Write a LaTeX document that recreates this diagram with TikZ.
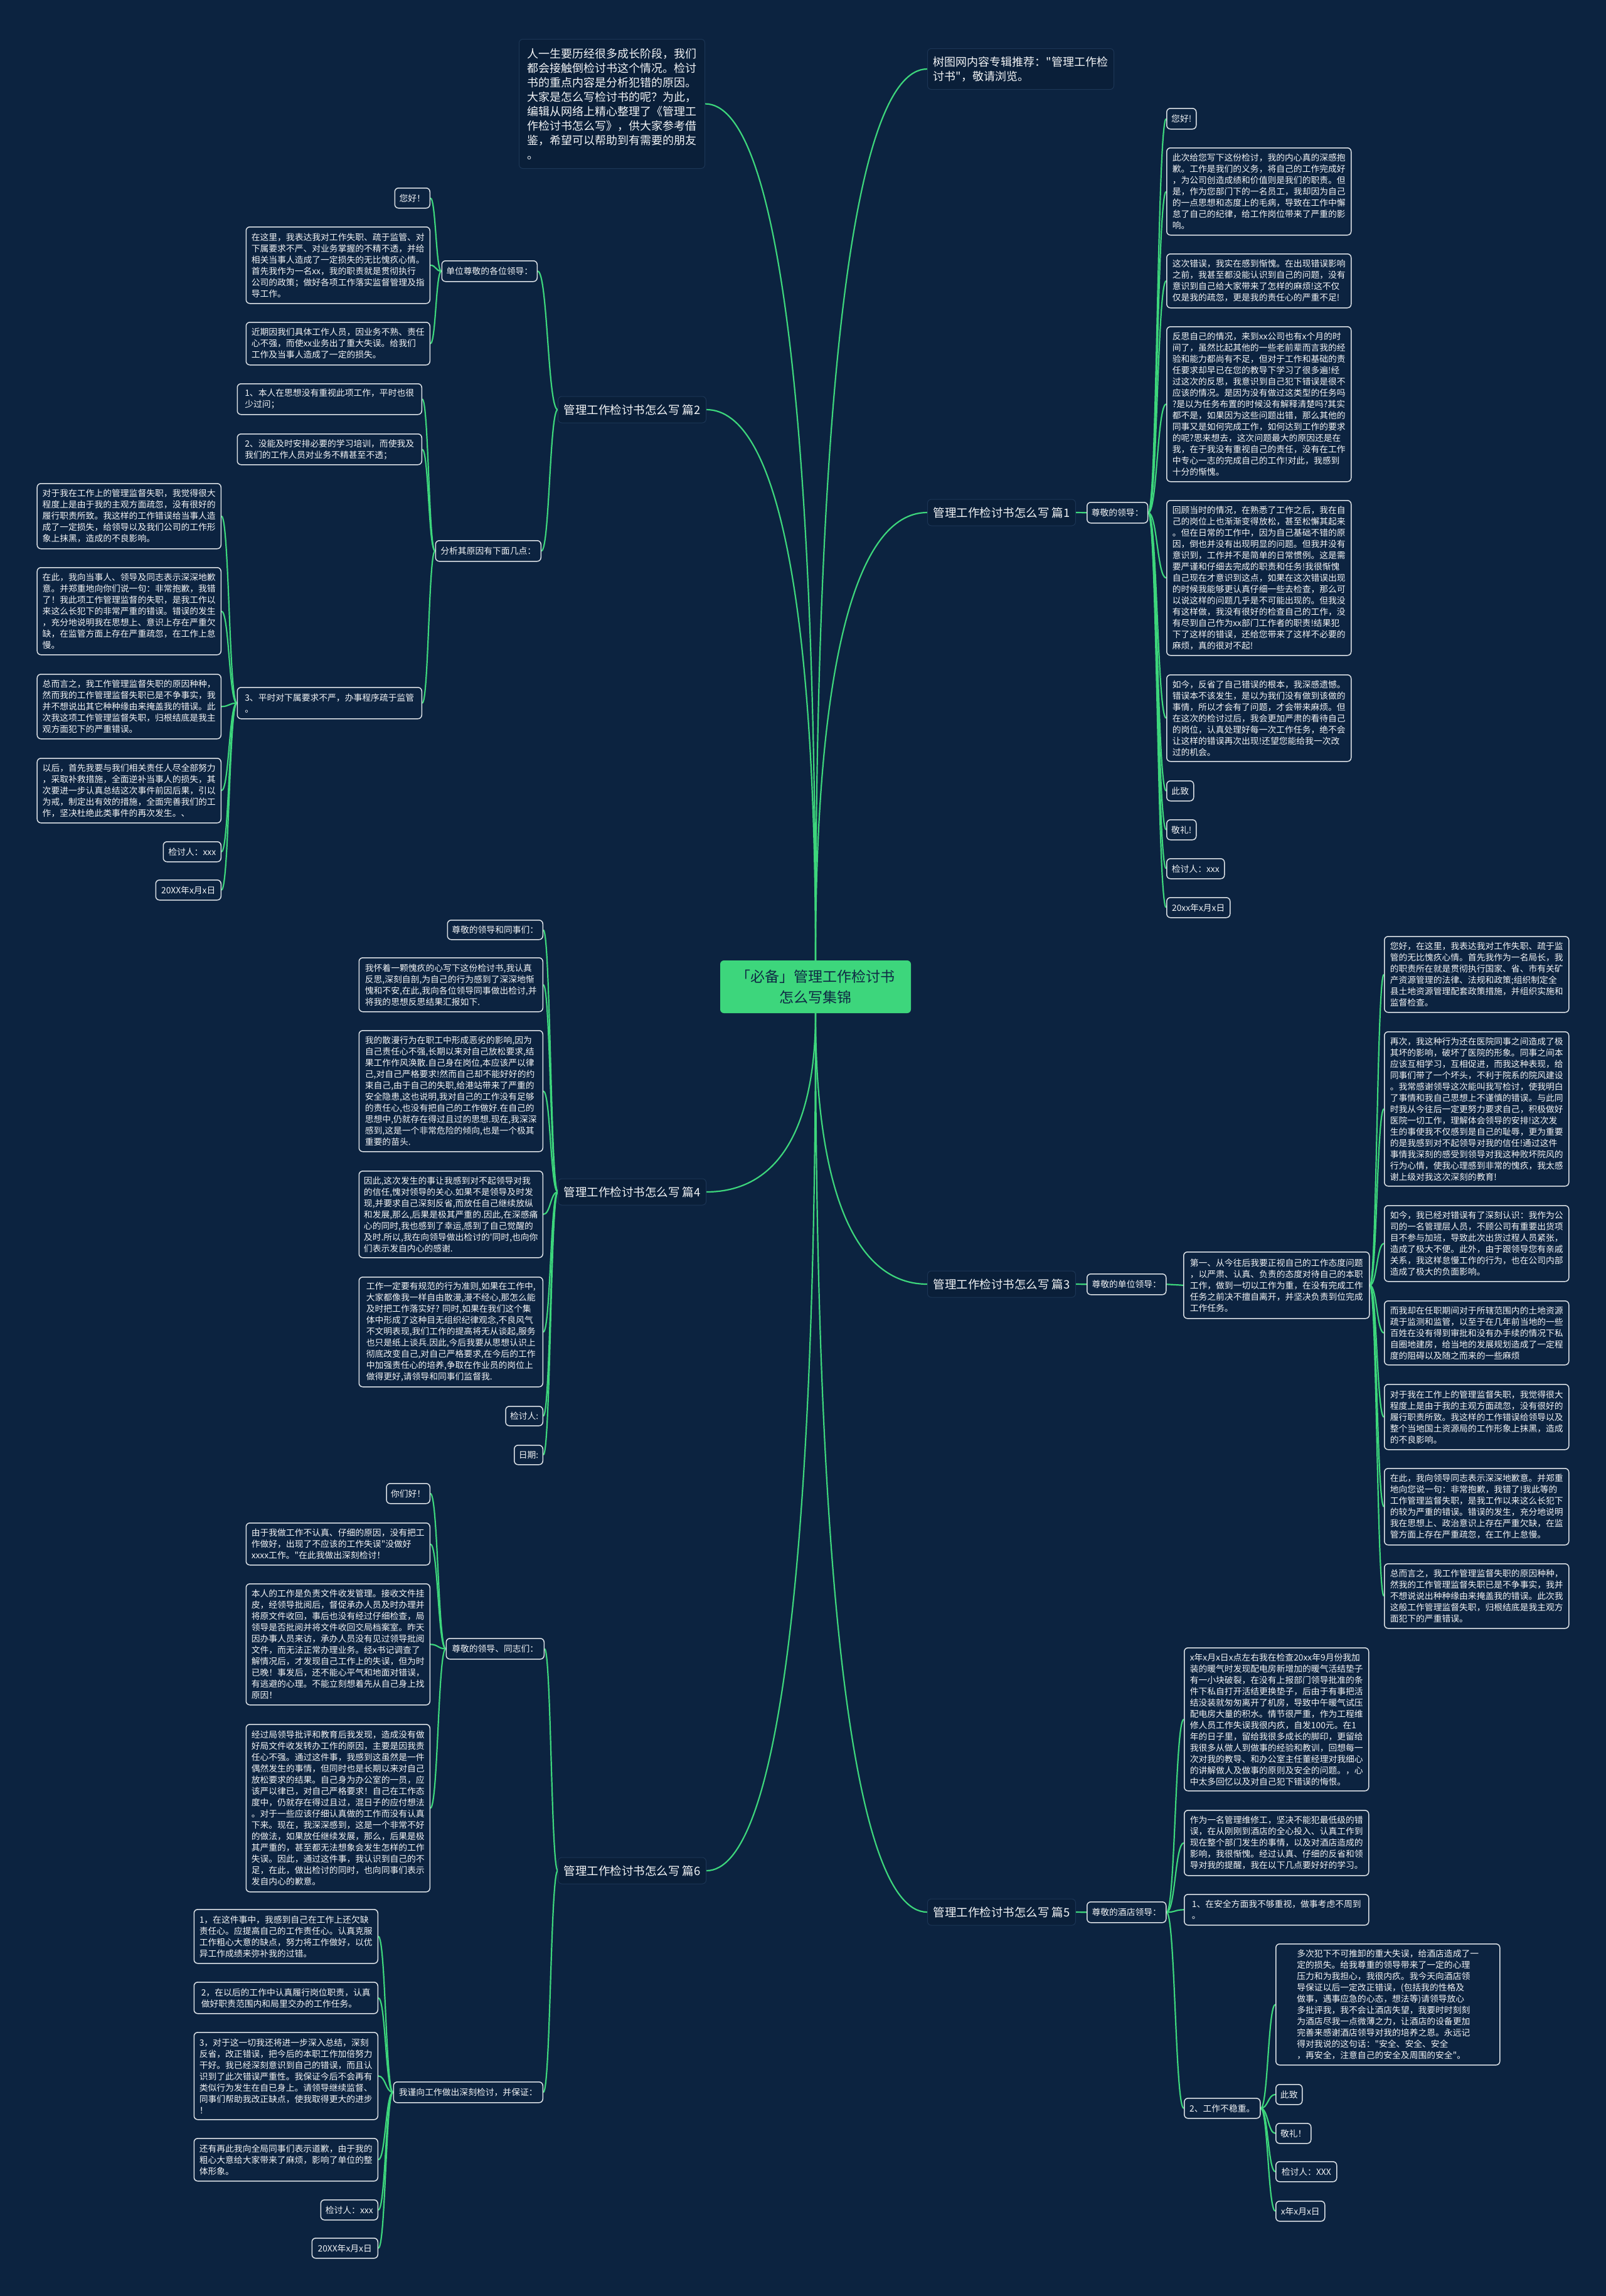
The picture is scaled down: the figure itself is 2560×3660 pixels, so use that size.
\documentclass[tikz,border=0pt]{standalone}
\usepackage{fontspec}
\setmainfont{Noto Sans CJK SC}[Ligatures=TeXOff]
\usetikzlibrary{calc}
\pgfdeclarelayer{bglayer}
\pgfdeclarelayer{connlayer}
\pgfsetlayers{bglayer,connlayer,main}
\definecolor{bg}{HTML}{0C2340}
\definecolor{grn}{HTML}{3DD67C}
\definecolor{bord}{HTML}{DCE1E6}
\definecolor{txt}{HTML}{F2F4F6}
\definecolor{introfill}{HTML}{0A1F39}
\definecolor{introbord}{HTML}{1C3656}
\definecolor{roottxt}{HTML}{0E2A44}
\tikzset{
  conn/.style={draw=grn, line width=2.2bp},
  box/.style={draw=bord, fill=bg, line width=1.5bp, rounded corners=6bp, align=left,
    inner xsep=7bp, inner ysep=2bp, text=txt, font=\fontsize{13.8bp}{18bp}\selectfont},
  intro/.style={draw=introbord, fill=introfill, line width=1bp, rounded corners=6bp, align=left,
    inner xsep=8bp, inner ysep=2bp, text=txt, font=\fontsize{18bp}{23bp}\selectfont},
  lab/.style={draw=introbord, fill=introfill, line width=1bp, rounded corners=6bp, text=txt,
    font=\fontsize{18.5bp}{22bp}\selectfont, inner xsep=9bp, inner ysep=2bp, minimum height=42bp, minimum width=231bp},
  rootn/.style={fill=grn, rounded corners=6bp, text=roottxt, align=center,
    font=\fontsize{23bp}{33bp}\selectfont, minimum width=304bp, minimum height=84bp, inner sep=2bp}
}
\newcommand\bxW[6]{\pgfmathsetmacro\bw{#4-#2}\pgfmathsetmacro\bh{#5-#3}%
  \node[box,anchor=north west,minimum width=\bw bp,minimum height=\bh bp] (#1) at (#2,#3) {#6};}
\newcommand\bxE[6]{\pgfmathsetmacro\bw{#4-#2}\pgfmathsetmacro\bh{#5-#3}%
  \node[box,anchor=north east,minimum width=\bw bp,minimum height=\bh bp] (#1) at (#4,#3) {#6};}
\newcommand\inW[6]{\pgfmathsetmacro\bw{#4-#2}\pgfmathsetmacro\bh{#5-#3}%
  \node[intro,anchor=north west,minimum width=\bw bp,minimum height=\bh bp] (#1) at (#2,#3) {#6};}
\newcommand\sconn[2]{\draw[conn] let \p1=(#1), \p2=(#2) in (\p1) .. controls ({0.5*\x1+0.5*\x2},\y1) and ({0.5*\x1+0.5*\x2},\y2) .. (\p2);}
\newcommand\rconn[2]{\draw[conn] let \p1=(#1), \p2=(#2) in (\p1) .. controls (\x1,{\y1+0.65*(\y2-\y1)}) and ({\x1+0.35*(\x2-\x1)},\y2) .. (\p2);}

\begin{document}
\begin{tikzpicture}[x=1bp,y=-1bp]
\begin{pgfonlayer}{bglayer}
\fill[bg] (0,0) rectangle (2560,3660);
\end{pgfonlayer}
\useasboundingbox (0,0) rectangle (2560,3660);

% top
\inW{intro}{827}{62}{1123}{268}{人一生要历经很多成长阶段，我们\\都会接触倒检讨书这个情况。检讨\\书的重点内容是分析犯错的原因。\\大家是怎么写检讨书的呢？为此，\\编辑从网络上精心整理了《管理工\\作检讨书怎么写》，供大家参考借\\鉴，希望可以帮助到有需要的朋友\\。}
\inW{rec}{1478}{77}{1775}{142}{树图网内容专辑推荐："管理工作检\\讨书"，敬请浏览。}

% root
\node[rootn] (root) at (1300,1573) {「必备」管理工作检讨书\\怎么写集锦};

% branch labels
\node[lab,anchor=east] (L2) at (1126,653) {管理工作检讨书怎么写 篇2};
\node[lab,anchor=west] (L1) at (1478,817) {管理工作检讨书怎么写 篇1};
\node[lab,anchor=east] (L4) at (1126,1900) {管理工作检讨书怎么写 篇4};
\node[lab,anchor=west] (L3) at (1478,2047) {管理工作检讨书怎么写 篇3};
\node[lab,anchor=east] (L6) at (1126,2982) {管理工作检讨书怎么写 篇6};
\node[lab,anchor=west] (L5) at (1478,3048) {管理工作检讨书怎么写 篇5};

% ---------- 篇1
\bxW{p1h}{1732}{800}{1828}{833}{尊敬的领导：}
\bxW{a1}{1859}{172}{1906}{205}{您好!}
\bxW{a2}{1859}{235}{2153}{374}{此次给您写下这份检讨，我的内心真的深感抱\\歉。工作是我们的义务，将自己的工作完成好\\，为公司创造成绩和价值则是我们的职责。但\\是，作为您部门下的一名员工，我却因为自己\\的一点思想和态度上的毛病，导致在工作中懈\\怠了自己的纪律，给工作岗位带来了严重的影\\响。}
\bxW{a3}{1859}{404}{2153}{490}{这次错误，我实在感到惭愧。在出现错误影响\\之前，我甚至都没能认识到自己的问题，没有\\意识到自己给大家带来了怎样的麻烦!这不仅\\仅是我的疏忽，更是我的责任心的严重不足!}
\bxW{a4}{1859}{520}{2153}{767}{反思自己的情况，来到xx公司也有x个月的时\\间了，虽然比起其他的一些老前辈而言我的经\\验和能力都尚有不足，但对于工作和基础的责\\任要求却早已在您的教导下学习了很多遍!经\\过这次的反思，我意识到自己犯下错误是很不\\应该的情况。是因为没有做过这类型的任务吗\\?是以为任务布置的时候没有解释清楚吗?其实\\都不是，如果因为这些问题出错，那么其他的\\同事又是如何完成工作，如何达到工作的要求\\的呢?思来想去，这次问题最大的原因还是在\\我，在于我没有重视自己的责任，没有在工作\\中专心一志的完成自己的工作!对此，我感到\\十分的惭愧。}
\bxW{a5}{1859}{797}{2153}{1044}{回顾当时的情况，在熟悉了工作之后，我在自\\己的岗位上也渐渐变得放松，甚至松懈其起来\\。但在日常的工作中，因为自己基础不错的原\\因，倒也并没有出现明显的问题。但我并没有\\意识到，工作并不是简单的日常惯例。这是需\\要严谨和仔细去完成的职责和任务!我很惭愧\\自己现在才意识到这点，如果在这次错误出现\\的时候我能够更认真仔细一些去检查，那么可\\以说这样的问题几乎是不可能出现的。但我没\\有这样做，我没有很好的检查自己的工作，没\\有尽到自己作为xx部门工作者的职责!结果犯\\下了这样的错误，还给您带来了这样不必要的\\麻烦，真的很对不起!}
\bxW{a6}{1859}{1075}{2153}{1213}{如今，反省了自己错误的根本，我深感遗憾。\\错误本不该发生，是以为我们没有做到该做的\\事情，所以才会有了问题，才会带来麻烦。但\\在这次的检讨过后，我会更加严肃的看待自己\\的岗位，认真处理好每一次工作任务，绝不会\\让这样的错误再次出现!还望您能给我一次改\\过的机会。}
\bxW{a7}{1859}{1244}{1902}{1276}{此致}
\bxW{a8}{1859}{1306}{1906}{1338}{敬礼!}
\bxW{a9}{1859}{1368}{1951}{1400}{检讨人：xxx}
\bxW{a10}{1859}{1430}{1960}{1462}{20xx年x月x日}

% ---------- 篇2
\bxE{p2a}{705}{415}{857}{448}{单位尊敬的各位领导：}
\bxE{b1}{630}{299}{686}{331}{您好！}
\bxE{b2}{393}{361}{686}{483}{在这里，我表达我对工作失职、疏于监管、对\\下属要求不严、对业务掌握的不精不透，并给\\相关当事人造成了一定损失的无比愧疚心情。\\首先我作为一名xx，我的职责就是贯彻执行\\公司的政策；做好各项工作落实监督管理及指\\导工作。}
\bxE{b3}{393}{513}{686}{581}{近期因我们具体工作人员，因业务不熟、责任\\心不强，而使xx业务出了重大失误。给我们\\工作及当事人造成了一定的损失。}
\bxE{p2b}{695}{861}{863}{894}{分析其原因有下面几点：}
\bxE{c1}{379}{611}{673}{660}{1、本人在思想没有重视此项工作，平时也很\\少过问；}
\bxE{c2}{379}{691}{673}{740}{2、没能及时安排必要的学习培训，而使我及\\我们的工作人员对业务不精甚至不透；}
\bxE{c3}{379}{1095}{673}{1145}{3、平时对下属要求不严，办事程序疏于监管\\。}
\bxE{d1}{60}{770}{353}{874}{对于我在工作上的管理监督失职，我觉得很大\\程度上是由于我的主观方面疏忽，没有很好的\\履行职责所致。我这样的工作错误给当事人造\\成了一定损失，给领导以及我们公司的工作形\\象上抹黑，造成的不良影响。}
\bxE{d2}{60}{904}{353}{1043}{在此，我向当事人、领导及同志表示深深地歉\\意。并郑重地向你们说一句：非常抱歉，我错\\了！我此项工作管理监督的失职，是我工作以\\来这么长犯下的非常严重的错误。错误的发生\\，充分地说明我在思想上、意识上存在严重欠\\缺，在监管方面上存在严重疏忽，在工作上怠\\慢。}
\bxE{d3}{60}{1074}{353}{1177}{总而言之，我工作管理监督失职的原因种种，\\然而我的工作管理监督失职已是不争事实，我\\并不想说出其它种种缘由来掩盖我的错误。此\\次我这项工作管理监督失职，归根结底是我主\\观方面犯下的严重错误。}
\bxE{d4}{60}{1208}{353}{1311}{以后，首先我要与我们相关责任人尽全部努力\\，采取补救措施，全面逆补当事人的损失，其\\次要进一步认真总结这次事件前因后果，引以\\为戒，制定出有效的措施，全面完善我们的工\\作，坚决杜绝此类事件的再次发生。、}
\bxE{d5}{261}{1341}{353}{1373}{检讨人：xxx}
\bxE{d6}{249}{1402}{353}{1434}{20XX年x月x日}

% ---------- 篇4
\bxE{e1}{723}{1466}{866}{1497}{尊敬的领导和同事们：}
\bxE{e2}{573}{1526}{866}{1612}{我怀着一颗愧疚的心写下这份检讨书,我认真\\反思,深刻自剖,为自己的行为感到了深深地惭\\愧和不安,在此,我向各位领导同事做出检讨,并\\将我的思想反思结果汇报如下.}
\bxE{e3}{573}{1642}{866}{1835}{我的散漫行为在职工中形成恶劣的影响,因为\\自己责任心不强,长期以来对自己放松要求,结\\果工作作风涣散.自己身在岗位,本应该严以律\\己,对自己严格要求!然而自己却不能好好的约\\束自己,由于自己的失职,给港站带来了严重的\\安全隐患,这也说明,我对自己的工作没有足够\\的责任心,也没有把自己的工作做好.在自己的\\思想中,仍就存在得过且过的思想.现在,我深深\\感到,这是一个非常危险的倾向,也是一个极其\\重要的苗头.}
\bxE{e4}{573}{1866}{866}{2004}{因此,这次发生的事让我感到对不起领导对我\\的信任,愧对领导的关心.如果不是领导及时发\\现,并要求自己深刻反省,而放任自己继续放纵\\和发展,那么,后果是极其严重的.因此,在深感痛\\心的同时,我也感到了幸运,感到了自己觉醒的\\及时.所以,我在向领导做出检讨的'同时,也向你\\们表示发自内心的感谢.}
\bxE{e5}{573}{2035}{866}{2210}{工作一定要有规范的行为准则,如果在工作中,\\大家都像我一样自由散漫,漫不经心,那怎么能\\及时把工作落实好? 同时,如果在我们这个集\\体中形成了这种目无组织纪律观念,不良风气\\不文明表现,我们工作的提高将无从谈起,服务\\也只是纸上谈兵.因此,今后我要从思想认识上\\彻底改变自己,对自己严格要求,在今后的工作\\中加强责任心的培养,争取在作业员的岗位上\\做得更好,请领导和同事们监督我.}
\bxE{e6}{807}{2241}{866}{2272}{检讨人:}
\bxE{e7}{821}{2303}{866}{2334}{日期:}

% ---------- 篇3
\bxW{p3h}{1732}{2030}{1858}{2063}{尊敬的单位领导：}
\bxW{p3f}{1886}{1995}{2182}{2101}{第一、从今往后我要正视自己的工作态度问题\\，以严肃、认真、负责的态度对待自己的本职\\工作，做到一切以工作为重，在没有完成工作\\任务之前决不擅自离开，并坚决负责到位完成\\工作任务。}
\bxW{f1}{2206}{1492}{2500}{1613}{您好，在这里，我表达我对工作失职、疏于监\\管的无比愧疚心情。首先我作为一名局长，我\\的职责所在就是贯彻执行国家、省、市有关矿\\产资源管理的法律、法规和政策;组织制定全\\县土地资源管理配套政策措施，并组织实施和\\监督检查。}
\bxW{f2}{2206}{1644}{2500}{1890}{再次，我这种行为还在医院同事之间造成了极\\其坏的影响，破坏了医院的形象。同事之间本\\应该互相学习，互相促进，而我这种表现，给\\同事们带了一个坏头，不利于院系的院风建设\\。我常感谢领导这次能叫我写检讨，使我明白\\了事情和我自己思想上不谨慎的错误。与此同\\时我从今往后一定更努力要求自己，积极做好\\医院一切工作，理解体会领导的安排!这次发\\生的事使我不仅感到是自己的耻辱，更为重要\\的是我感到对不起领导对我的信任!通过这件\\事情我深刻的感受到领导对我这种败坏院风的\\行为心情，使我心理感到非常的愧疚，我太感\\谢上级对我这次深刻的教育!}
\bxW{f3}{2206}{1921}{2500}{2042}{如今，我已经对错误有了深刻认识：我作为公\\司的一名管理层人员，不顾公司有重要出货项\\目不参与加班，导致此次出货过程人员紧张，\\造成了极大不便。此外，由于跟领导您有亲戚\\关系，我这样怠慢工作的行为，也在公司内部\\造成了极大的负面影响。}
\bxW{f4}{2206}{2073}{2500}{2175}{而我却在任职期间对于所辖范围内的土地资源\\疏于监测和监管，以至于在几年前当地的一些\\百姓在没有得到审批和没有办手续的情况下私\\自圈地建房，给当地的发展规划造成了一定程\\度的阻碍以及随之而来的一些麻烦}
\bxW{f5}{2206}{2206}{2500}{2310}{对于我在工作上的管理监督失职，我觉得很大\\程度上是由于我的主观方面疏忽，没有很好的\\履行职责所致。我这样的工作错误给领导以及\\整个当地国土资源局的工作形象上抹黑，造成\\的不良影响。}
\bxW{f6}{2206}{2340}{2500}{2462}{在此，我向领导同志表示深深地歉意。并郑重\\地向您说一句：非常抱歉，我错了!我此等的\\工作管理监督失职，是我工作以来这么长犯下\\的较为严重的错误。错误的发生，充分地说明\\我在思想上、政治意识上存在严重欠缺，在监\\管方面上存在严重疏忽，在工作上怠慢。}
\bxW{f7}{2206}{2492}{2500}{2595}{总而言之，我工作管理监督失职的原因种种，\\然我的工作管理监督失职已是不争事实，我并\\不想说说出种种缘由来掩盖我的错误。此次我\\这般工作管理监督失职，归根结底是我主观方\\面犯下的严重错误。}

% ---------- 篇6
\bxE{p6a}{712}{2611}{868}{2644}{尊敬的领导、同志们：}
\bxE{g1}{617}{2364}{686}{2396}{你们好！}
\bxE{g2}{393}{2427}{686}{2494}{由于我做工作不认真、仔细的原因，没有把工\\作做好，出现了不应该的工作失误"没做好\\xxxx工作。"在此我做出深刻检讨！}
\bxE{g3}{393}{2524}{686}{2717}{本人的工作是负责文件收发管理。接收文件挂\\皮，经领导批阅后，督促承办人员及时办理并\\将原文件收回，事后也没有经过仔细检查，局\\领导是否批阅并将文件收回交局档案室。昨天\\因办事人员来访，承办人员没有见过领导批阅\\文件，而无法正常办理业务。经x书记调查了\\解情况后，才发现自己工作上的失误，但为时\\已晚！事发后，还不能心平气和地面对错误，\\有逃避的心理。不能立刻想着先从自己身上找\\原因！}
\bxE{g4}{393}{2748}{686}{3015}{经过局领导批评和教育后我发现，造成没有做\\好局文件收发转办工作的原因，主要是因我责\\任心不强。通过这件事，我感到这虽然是一件\\偶然发生的事情，但同时也是长期以来对自己\\放松要求的结果。自己身为办公室的一员，应\\该严以律已，对自己严格要求！自己在工作态\\度中，仍就存在得过且过，混日子的应付想法\\。对于一些应该仔细认真做的工作而没有认真\\下来。现在，我深深感到，这是一个非常不好\\的做法，如果放任继续发展，那么，后果是极\\其严重的，甚至都无法想象会发生怎样的工作\\失误。因此，通过这件事，我认识到自己的不\\足，在此，做出检讨的同时，也向同事们表示\\发自内心的歉意。}
\bxE{p6b}{628}{3318}{866}{3351}{我谨向工作做出深刻检讨，并保证：}
\bxE{h1}{310}{3043}{603}{3129}{1，在这件事中，我感到自己在工作上还欠缺\\责任心。应提高自己的工作责任心。认真克服\\工作粗心大意的缺点，努力将工作做好，以优\\异工作成绩来弥补我的过错。}
\bxE{h2}{310}{3159}{603}{3209}{2，在以后的工作中认真履行岗位职责，认真\\做好职责范围内和局里交办的工作任务。}
\bxE{h3}{310}{3239}{603}{3378}{3，对于这一切我还将进一步深入总结，深刻\\反省，改正错误，把今后的本职工作加倍努力\\干好。我已经深刻意识到自己的错误，而且认\\识到了此次错误严重性。我保证今后不会再有\\类似行为发生在自已身上。请领导继续监督、\\同事们帮助我改正缺点，使我取得更大的进步\\！}
\bxE{h4}{310}{3408}{603}{3476}{还有再此我向全局同事们表示道歉，由于我的\\粗心大意给大家带来了麻烦，影响了单位的整\\体形象。}
\bxE{h5}{512}{3506}{603}{3538}{检讨人：xxx}
\bxE{h6}{498}{3567}{603}{3599}{20XX年x月x日}

% ---------- 篇5
\bxW{p5h}{1732}{3031}{1858}{3064}{尊敬的酒店领导：}
\bxW{i1}{1887}{2626}{2181}{2854}{x年x月x日x点左右我在检查20xx年9月份我加\\装的暖气时发现配电房新增加的暖气活结垫子\\有一小块破裂，在没有上报部门领导批准的条\\件下私自打开活结更换垫子，后由于有事把活\\结没装就匆匆离开了机房，导致中午暖气试压\\配电房大量的积水。情节很严重，作为工程维\\修人员工作失误我很内疚，自发100元。在1\\年的日子里，留给我很多成长的脚印，更留给\\我很多从做人到做事的经验和教训，回想每一\\次对我的教导、和办公室主任董经理对我细心\\的讲解做人及做事的原则及安全的问题。，心\\中太多回忆以及对自己犯下错误的悔恨。}
\bxW{i2}{1887}{2885}{2181}{2989}{作为一名管理维修工，坚决不能犯最低级的错\\误，在从刚刚到酒店的全心投入、认真工作到\\现在整个部门发生的事情，以及对酒店造成的\\影响，我很惭愧。经过认真、仔细的反省和领\\导对我的提醒，我在以下几点要好好的学习。}
\bxW{i3}{1887}{3019}{2181}{3068}{1、在安全方面我不够重视，做事考虑不周到\\。}
\bxW{i4}{1887}{3344}{2008}{3376}{2、工作不稳重。}
\bxW{j1}{2033}{3098}{2390}{3291}{多次犯下不可推卸的重大失误，给酒店造成了一\\定的损失。给我尊重的领导带来了一定的心理\\压力和为我担心，我很内疚。我今天向酒店领\\导保证以后一定改正错误，(包括我的性格及\\做事，遇事应急的心态，想法等)请领导放心\\多批评我，我不会让酒店失望，我要时时刻刻\\为酒店尽我一点微薄之力，让酒店的设备更加\\完善来感谢酒店领导对我的培养之恩。永远记\\得对我说的这句话："安全、安全、安全\\，再安全，注意自己的安全及周围的安全"。}
\bxW{j2}{2033}{3322}{2075}{3354}{此致}
\bxW{j3}{2033}{3384}{2089}{3416}{敬礼！}
\bxW{j4}{2033}{3445}{2130}{3477}{检讨人：XXX}
\bxW{j5}{2033}{3508}{2111}{3540}{x年x月x日}

% ---------- connectors
\begin{pgfonlayer}{connlayer}
\rconn{root.north}{intro.east}
\rconn{root.north}{rec.west}
\rconn{root.north}{L2.east}
\rconn{root.north}{L1.west}
\rconn{root.south}{L4.east}
\rconn{root.south}{L3.west}
\rconn{root.south}{L6.east}
\rconn{root.south}{L5.west}
% 篇1
\sconn{L1.east}{p1h.west}
\foreach \q in {a1,a2,a3,a4,a5,a6,a7,a8,a9,a10} {\sconn{p1h.east}{\q.west}}
% 篇2
\sconn{L2.west}{p2a.east}
\sconn{L2.west}{p2b.east}
\foreach \q in {b1,b2,b3} {\sconn{p2a.west}{\q.east}}
\foreach \q in {c1,c2,c3} {\sconn{p2b.west}{\q.east}}
\foreach \q in {d1,d2,d3,d4,d5,d6} {\sconn{c3.west}{\q.east}}
% 篇4
\foreach \q in {e1,e2,e3,e4,e5,e6,e7} {\sconn{L4.west}{\q.east}}
% 篇3
\sconn{L3.east}{p3h.west}
\sconn{p3h.east}{p3f.west}
\foreach \q in {f1,f2,f3,f4,f5,f6,f7} {\sconn{p3f.east}{\q.west}}
% 篇6
\sconn{L6.west}{p6a.east}
\sconn{L6.west}{p6b.east}
\foreach \q in {g1,g2,g3,g4} {\sconn{p6a.west}{\q.east}}
\foreach \q in {h1,h2,h3,h4,h5,h6} {\sconn{p6b.west}{\q.east}}
% 篇5
\sconn{L5.east}{p5h.west}
\foreach \q in {i1,i2,i3,i4} {\sconn{p5h.east}{\q.west}}
\foreach \q in {j1,j2,j3,j4,j5} {\sconn{i4.east}{\q.west}}
\end{pgfonlayer}
\end{tikzpicture}
\end{document}
